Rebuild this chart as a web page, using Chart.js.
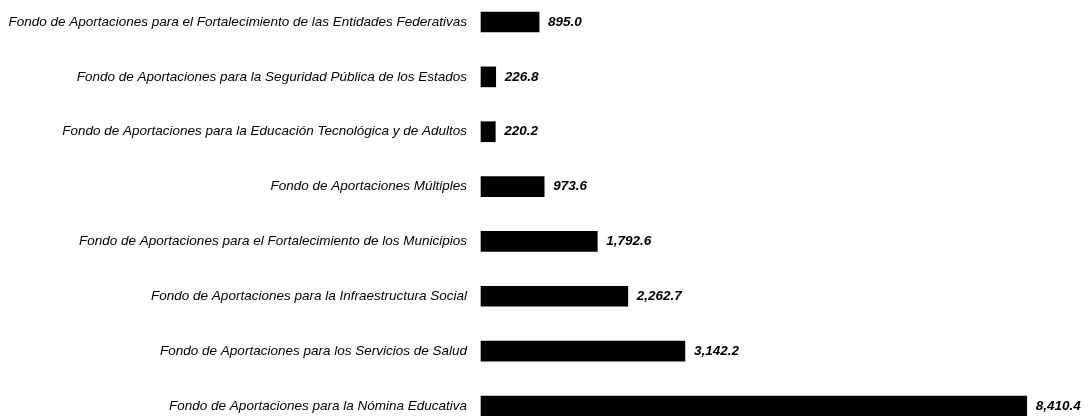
<!DOCTYPE html>
<html>
<head>
<meta charset="utf-8">
<script src="https://cdn.jsdelivr.net/npm/chart.js@4"></script>
<style>
html,body{margin:0;padding:0;background:#fff;overflow:hidden;}
#wrap{width:1088px;height:416px;position:relative;}
</style>
</head>
<body>
<div id="wrap"><canvas id="c" width="1088" height="416"></canvas></div>
<script>
const categories = [
  "Fondo de Aportaciones para el Fortalecimiento de las Entidades Federativas",
  "Fondo de Aportaciones para la Seguridad Pública de los Estados",
  "Fondo de Aportaciones para la Educación Tecnológica y de Adultos",
  "Fondo de Aportaciones Múltiples",
  "Fondo de Aportaciones para el Fortalecimiento de los Municipios",
  "Fondo de Aportaciones para la Infraestructura Social",
  "Fondo de Aportaciones para los Servicios de Salud",
  "Fondo de Aportaciones para la Nómina Educativa"
];
const values = [895.0, 226.8, 220.2, 973.6, 1792.6, 2262.7, 3142.2, 8410.4];

const FONT = '"Liberation Sans", Arial, sans-serif';

const valueLabels = {
  id: 'valueLabels',
  afterDatasetsDraw(chart) {
    const ctx = chart.ctx;
    const meta = chart.getDatasetMeta(0);
    ctx.save();
    ctx.font = 'italic bold 13.5px ' + FONT;
    ctx.fillStyle = '#000';
    ctx.textAlign = 'left';
    ctx.textBaseline = 'middle';
    meta.data.forEach((bar, i) => {
      const v = values[i];
      const txt = v.toLocaleString('en-US', {minimumFractionDigits: 1, maximumFractionDigits: 1});
      ctx.fillText(txt, bar.x + 9, bar.y);
    });
    ctx.restore();
  }
};

new Chart(document.getElementById('c'), {
  type: 'bar',
  data: {
    labels: categories,
    datasets: [{
      data: values,
      backgroundColor: '#000',
      borderWidth: 0,
      barThickness: 20,
      clip: false
    }]
  },
  options: {
    indexAxis: 'y',
    responsive: false,
    animation: false,
    layout: {padding: {top: 22, bottom: 10, left: 0, right: 23}},
    plugins: {legend: {display: false}, tooltip: {enabled: false}},
    scales: {
      x: {display: false, min: 0, max: 9000},
      y: {
        offset: false,
        grid: {display: false, drawTicks: false},
        border: {display: false},
        ticks: {
          autoSkip: false,
          padding: 14,
          color: '#000',
          font: {family: FONT, size: 13.5, style: 'italic'}
        },
        afterFit(scale) {
          scale.width = 481;
          scale.paddingTop = 0;
          scale.paddingBottom = 0;
        }
      }
    }
  },
  plugins: [valueLabels]
});
</script>
</body>
</html>
